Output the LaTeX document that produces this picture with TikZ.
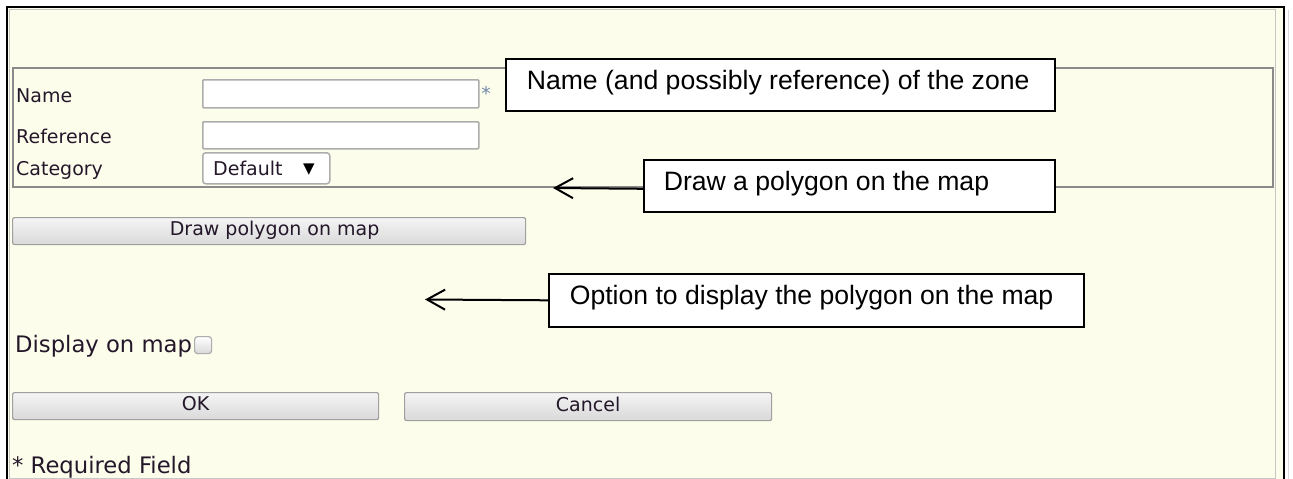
\documentclass[tikz,border=0pt]{standalone}
\usepackage{fontspec}
\setmainfont{Liberation Sans}
\newfontfamily\formfont{DejaVu Sans}
\usetikzlibrary{arrows.meta}
\definecolor{bg}{HTML}{FDFDEC}
\definecolor{formtext}{HTML}{24172A}
\definecolor{fsgray}{HTML}{8A8A8A}
\definecolor{boxgray}{HTML}{ADADAD}
\definecolor{astblue}{HTML}{7088A8}
\definecolor{btnborder}{HTML}{A0A0A0}
\definecolor{btntop}{HTML}{F4F4F4}
\definecolor{btnbot}{HTML}{D9D9D9}
\begin{document}
\begin{tikzpicture}[x=1pt,y=-1pt,
  callout/.style={draw=black, line width=1.6pt, fill=white,
    font=\fontsize{26.6}{30}\selectfont, text height=0.92em, text depth=0em,
    anchor=north west, inner ysep=0pt},
  callarrow/.style={line width=2pt, -{Straight Barb[length=18pt,width=20pt]}},
  tbox/.style={draw=boxgray, line width=1.5pt, fill=white, rounded corners=1pt,
    inner sep=0pt, anchor=north west},
  formlabel/.style={font=\formfont\fontsize{19}{22}\selectfont, text=formtext,
    anchor=base west, inner sep=0pt},
  biglabel/.style={font=\formfont\fontsize{22.7}{26}\selectfont, text=formtext,
    anchor=base west, inner sep=0pt},
  button/.style={draw=btnborder, line width=1.2pt, rounded corners=2pt,
    top color=btntop, bottom color=btnbot,
    font=\formfont\fontsize{19}{22}\selectfont, text=formtext,
    text height=0.9em, text depth=0em, anchor=north west, inner sep=0pt},
  checkbox/.style={draw=boxgray, line width=1.2pt, rounded corners=3pt,
    top color=white, bottom color=btnbot, inner sep=0pt, anchor=north west}
]
\useasboundingbox (0,0) rectangle (1293,479);
\fill[white] (0,0) rectangle (1293,479);
\fill[bg] (7,7) rectangle (1284,479);
% window frame
\draw[gray!45, line width=1pt] (9.5,479) -- (9.5,9.5) -- (1275.5,9.5) -- (1275.5,479);
\draw[gray!45, line width=1pt] (9.5,478.5) -- (1275.5,478.5);
\draw[black, line width=2.5pt] (7,480) -- (7,7) -- (1284,7) -- (1284,480);
\draw[gray!30, line width=1pt] (1288.5,10) -- (1288.5,479);
% fieldset
\draw[fsgray, line width=2pt] (12.5,67.5) rectangle (1273,186.5);
% form fields
\node[formlabel] (lname) at (16,102) {Name};
\node[formlabel] (lref) at (16,143) {Reference};
\node[formlabel] (lcat) at (16,175) {Category};
\node[tbox, minimum width=276pt, minimum height=28pt] (namebox) at (202,79) {};
\node[tbox, minimum width=276pt, minimum height=27pt] (refbox) at (202,121) {};
\node[tbox, rounded corners=3pt, minimum width=127pt, minimum height=31pt] (catbox) at (202,152) {};
\node[formlabel] (ldef) at (213,175) {Default};
\node[font=\formfont\fontsize{15}{18}\selectfont, text=black, inner sep=0pt, anchor=base] (tri) at (309,173) {▼};
\node[font=\formfont\fontsize{19}{22}\selectfont, text=astblue, inner sep=0pt] (ast) at (486,93) {*};
% buttons
\node[button, minimum width=513pt, minimum height=27pt] (bdraw) at (12,217) {\hspace*{11pt}Draw polygon on map};
\node[biglabel] (ldisp) at (15,352) {Display on map};
\node[checkbox, minimum width=17pt, minimum height=17pt] (chk) at (194,336) {};
\node[button, minimum width=366pt, minimum height=27pt] (bok) at (12,392) {OK};
\node[button, minimum width=367pt, minimum height=28pt] (bcancel) at (404,392) {Cancel};
\node[biglabel] (lreq) at (12,473) {* Required Field};
% callouts
\node[callout, inner xsep=21pt, minimum height=52pt] (c1) at (505,58)
  {\makebox[507pt][l]{Name (and possibly reference) of the zone}};
\node[callout, inner xsep=20pt, minimum height=52pt] (c2) at (643,159)
  {\makebox[371pt][l]{Draw a polygon on the map}};
\node[callout, inner xsep=21pt, minimum height=53pt] (c3) at (548,273)
  {\makebox[493pt][l]{Option to display the polygon on the map}};
\coordinate (t2) at (553,188);
\coordinate (t3) at (425,299.5);
\draw[callarrow] ([yshift=-3pt]c2.west) -- (t2);
\draw[callarrow] (c3.west) -- (t3);
\end{tikzpicture}
\end{document}
